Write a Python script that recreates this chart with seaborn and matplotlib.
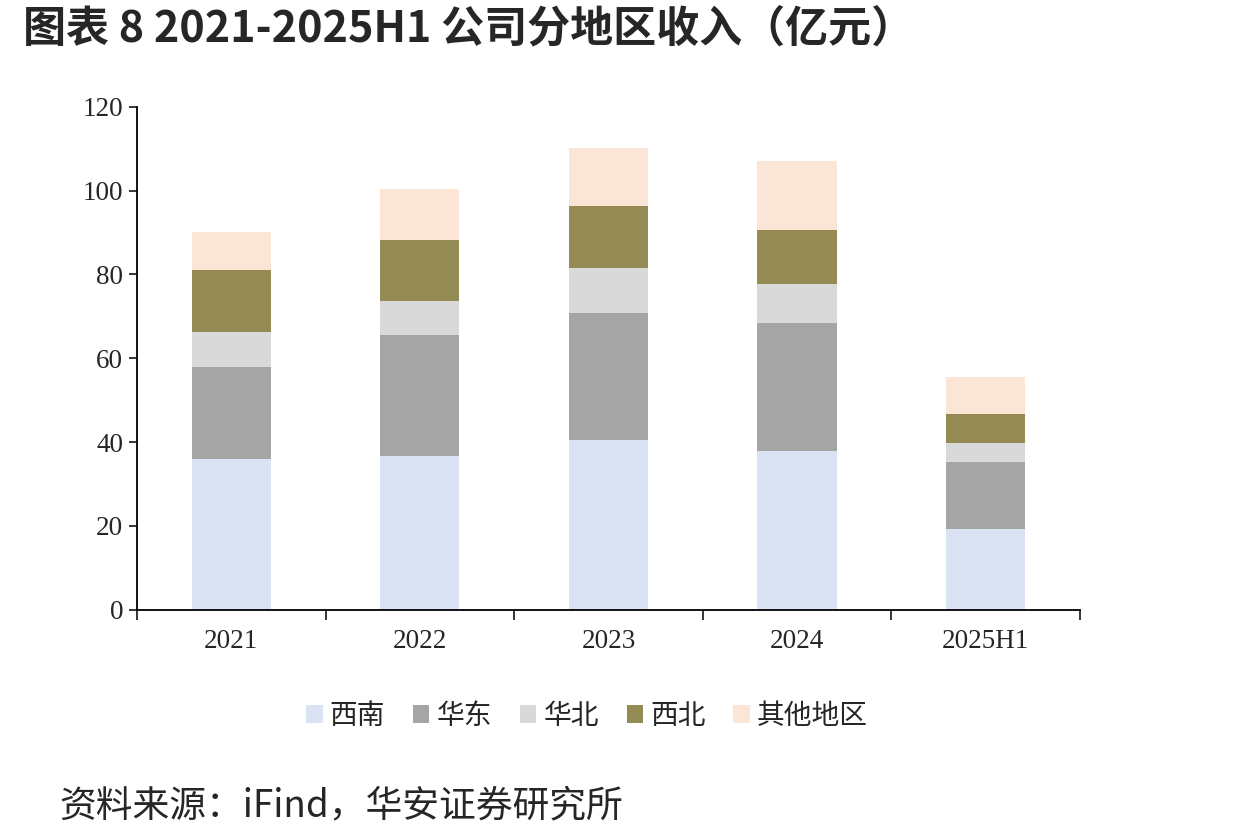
import numpy as np
import pandas as pd
from matplotlib import pyplot as plt
from matplotlib.patches import Patch
from matplotlib.ticker import FixedLocator
import seaborn as sns

# data (亿元)
years = ["2021", "2022", "2023", "2024", "2025H1"]
regions = ["西南", "华东", "华北", "西北", "其他地区"]
southwest = [35.9, 36.7, 40.5, 37.9, 19.3]
east = [21.9, 28.9, 30.2, 30.4, 16.0]
north = [8.4, 8.0, 10.9, 9.4, 4.5]
northwest = [14.8, 14.6, 14.6, 12.9, 7.0]
others = [9.0, 12.1, 13.9, 16.4, 8.8]
colors = ["#dae3f3", "#a5a5a5", "#d9d9d9", "#948a54", "#fbe5d6"]

df = pd.DataFrame({"year": years, "西南": southwest, "华东": east,
                   "华北": north, "西北": northwest, "其他地区": others})

sns.set_style("white")
plt.rcParams["font.family"] = ["Liberation Serif", "Noto Sans CJK SC"]

fig = plt.figure(figsize=(12.57, 8.4), dpi=100)
ax = fig.add_axes([0.109, 0.274, 0.750, 0.599])

bottom = np.zeros(len(years))
for region, color in zip(regions, colors):
    sns.barplot(data=df, x="year", y=region, color=color, width=0.42,
                bottom=bottom, ax=ax, linewidth=0, saturation=1)
    bottom += df[region].values

ax.set_ylim(0, 120)
ax.set_xlim(-0.5, len(years) - 0.5)
ax.set_yticks(np.arange(0, 121, 20))
ax.set_xlabel("")
ax.set_ylabel("")

ax.xaxis.set_minor_locator(FixedLocator(np.arange(-0.5, len(years), 1)))
ax.tick_params(axis="x", which="major", length=0, pad=14, labelsize=19.5)
ax.tick_params(axis="x", which="minor", length=7, width=1.3, direction="out", bottom=True)
ax.tick_params(axis="y", length=6, width=1.3, direction="out", left=True, pad=4, labelsize=19.5)

for side in ["top", "right"]:
    ax.spines[side].set_visible(False)
for side in ["left", "bottom"]:
    ax.spines[side].set_color("black")
    ax.spines[side].set_linewidth(1.3)

handles = [Patch(facecolor=c, edgecolor="none") for c in colors]
fig.legend(handles, regions, loc="center", bbox_to_anchor=(0.467, 0.148), ncol=5,
           frameon=False, handlelength=0.6, handleheight=0.6, handletextpad=0.25,
           columnspacing=1.0, prop={"family": ["Noto Sans CJK SC"], "size": 20})

fig.text(0.018, 0.966, "图表 8 2021-2025H1 公司分地区收入（亿元）", ha="left", va="center",
         fontsize=31, fontweight="bold", family=["Noto Sans CJK SC", "DejaVu Sans"])
fig.text(0.047, 0.040, "资料来源：iFind，华安证券研究所", ha="left", va="center",
         fontsize=26.5, family=["Noto Sans CJK SC", "DejaVu Sans"])

fig.savefig("out.png", dpi=100, facecolor="white")
